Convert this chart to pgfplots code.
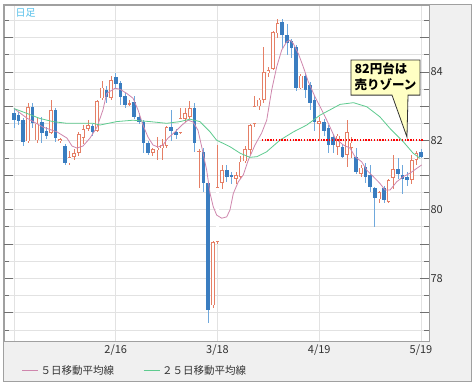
\documentclass[border=0pt]{standalone}
\usepackage{fontspec}
\setmainfont{Noto Sans CJK JP}
\usepackage{pgfplots}
\usepackage{pgfplotstable}
\pgfplotsset{compat=1.18}
\definecolor{bgfill}{HTML}{F0F0F0}
\definecolor{framegrey}{HTML}{A0A0A0}
\definecolor{gridgrey}{HTML}{E2E2E2}
\definecolor{tickgrey}{HTML}{707070}
\definecolor{textgrey}{HTML}{333333}
\definecolor{cblue}{HTML}{3A7DC0}
\definecolor{cbluew}{HTML}{6FA8DC}
\definecolor{corange}{HTML}{E57F66}
\definecolor{mafive}{HTML}{CF86AD}
\definecolor{matwf}{HTML}{5ECB8F}
\definecolor{labblue}{HTML}{55C0EA}
\definecolor{callfill}{HTML}{FFFFC4}

% i open high low close
\pgfplotstableread{
i o h l c
3 81.99 83.10 81.95 82.98
5 82.02 82.70 81.95 82.50
8 82.23 83.19 82.20 82.90
10 82.00 82.08 81.95 82.05
12 81.35 81.70 81.30 81.53
13 81.53 81.75 81.45 81.65
14 81.65 82.25 81.55 82.20
15 82.08 82.45 81.90 82.35
16 82.35 82.60 82.30 82.45
18 82.30 83.20 82.25 83.15
19 83.24 83.75 83.20 83.55
21 83.25 83.90 83.20 83.77
25 83.06 83.20 83.00 83.10
30 81.65 81.80 81.55 81.75
31 81.72 82.10 81.45 81.80
32 81.78 82.05 81.45 81.88
33 81.85 82.42 81.80 82.40
36 82.23 82.95 82.20 82.66
37 82.65 82.95 82.55 82.80
38 82.70 83.16 82.65 82.95
40 81.68 81.75 80.63 81.72
43 77.22 79.10 77.15 79.06
44 79.06 81.88 79.00 80.66
45 80.77 81.30 80.60 81.15
48 80.90 81.10 80.75 81.00
49 80.95 81.55 80.90 81.40
50 81.40 81.85 81.35 81.75
51 81.73 82.50 81.60 82.46
52 82.50 83.30 82.40 83.00
53 83.00 83.25 82.90 83.20
54 83.19 84.73 83.10 84.00
55 83.98 84.15 83.85 84.05
56 84.10 85.20 84.05 85.16
57 85.13 85.55 85.00 85.42
62 83.53 83.95 83.50 83.90
66 82.50 82.70 82.00 82.58
70 81.82 82.20 81.60 82.15
72 81.59 82.60 81.24 82.25
73 81.80 82.10 81.50 81.95
75 81.05 81.30 80.95 81.22
79 80.30 80.55 80.20 80.50
81 80.22 80.90 80.20 80.86
82 80.92 81.60 80.60 81.18
86 80.86 81.60 80.75 81.44
87 81.44 81.70 81.30 81.65
}\updata

\pgfplotstableread{
i o h l c
0 82.81 82.95 82.37 82.60
1 82.75 82.85 82.45 82.57
2 82.60 82.65 81.85 81.97
4 82.98 83.10 82.37 82.52
6 82.55 82.70 81.95 82.23
7 82.30 82.40 82.05 82.15
9 82.90 82.95 81.98 82.08
11 81.85 81.90 81.30 81.35
17 82.42 82.50 82.15 82.25
20 83.48 83.60 83.10 83.27
22 83.85 83.97 83.50 83.65
23 83.68 83.75 83.05 83.27
24 83.30 83.40 82.95 83.04
26 83.12 83.30 82.65 82.70
27 82.70 82.80 82.50 82.55
28 82.55 82.60 81.64 81.93
29 81.93 82.00 81.60 81.64
34 82.40 82.90 82.00 82.28
35 82.25 82.35 82.05 82.18
39 82.95 83.10 81.68 81.93
41 81.68 81.80 80.50 80.77
42 80.77 80.80 76.70 77.08
46 81.15 81.30 80.80 80.95
47 81.00 81.10 80.75 80.95
58 85.45 85.55 84.70 85.07
59 85.07 85.40 84.50 84.85
60 84.90 84.95 84.40 84.70
61 84.72 84.80 83.45 83.55
63 83.90 83.95 83.25 83.48
64 83.62 83.70 82.90 83.10
65 83.19 83.30 82.30 82.55
67 82.55 82.65 82.15 82.30
68 82.37 82.45 81.65 81.88
69 82.10 82.20 81.65 81.88
71 81.82 81.90 81.50 81.53
74 81.53 81.80 81.05 81.10
76 81.24 81.35 80.77 80.95
77 81.00 81.30 80.50 80.66
78 80.63 80.65 79.50 80.34
80 80.63 80.70 80.20 80.28
83 81.18 81.50 80.90 81.05
84 81.00 81.30 80.45 80.90
85 80.95 81.10 80.70 80.85
88 81.68 81.75 81.50 81.53
}\downdata

\begin{document}
\begin{tikzpicture}
\path[use as bounding box] (0pt,0pt) rectangle (474pt,384pt);
\fill[bgfill, draw=framegrey, line width=0.8pt] (3pt,3pt) rectangle (471pt,380pt);
\begin{axis}[
  at={(4pt,43pt)}, anchor=south west,
  scale only axis, width=425pt, height=336pt,
  xmin=-2.16, xmax=89.73, ymin=76.18, ymax=85.95,
  axis background/.style={fill=white},
  axis line style={draw=framegrey, line width=0.8pt},
  /pgf/number format/assume math mode=true,
  xtick={0,22,44,66,88}, xticklabels={,2/16,3/18,4/19,5/19},
  x tick style={draw=none},
  xmajorgrids,
  ytick={78,80,82,84},
  extra y ticks={77,79,81,83,85}, extra y tick labels={},
  extra y tick style={grid=major},
  minor ytick={76.5,77.5,...,85.5},
  ymajorgrids, yminorgrids,
  major grid style={draw=gridgrey, line width=0.8pt},
  minor grid style={draw=gridgrey, line width=0.8pt},
  tick align=inside, ytick pos=both, yticklabel pos=right,
  major tick length=9pt, minor tick length=5pt,
  y tick style={draw=tickgrey, line width=0.8pt},
  yticklabel style={font=\fontsize{11}{12}\selectfont, text=textgrey, xshift=-2pt},
  xticklabel style={font=\fontsize{11}{12}\selectfont, text=textgrey},
  legend style={at={(axis description cs:0.034,-0.089)}, anchor=west, draw=none, fill=none,
    font=\fontsize{10.5}{12}\selectfont, text=textgrey, legend columns=2,
    /tikz/every even column/.append style={column sep=27pt}},
  legend image code/.code={\draw[#1, line width=1pt] (0pt,0pt) -- (16pt,0pt);},
  candle/.style={forget plot, draw=none, mark=none,
    error bars/.cd, y dir=both, y explicit, error mark=none},
]
% wicks
\addplot[candle, error bar style={draw=cbluew, line width=0.7pt}]
  table[x=i, y expr={(\thisrow{h}+\thisrow{l})/2}, y error expr={(\thisrow{h}-\thisrow{l})/2}] {\downdata};
\addplot[candle, error bar style={draw=corange, line width=0.7pt}]
  table[x=i, y expr={(\thisrow{h}+\thisrow{l})/2}, y error expr={(\thisrow{h}-\thisrow{l})/2}] {\updata};
% bodies
\addplot[candle, error bar style={draw=cblue, line width=3.6pt}]
  table[x=i, y expr={(\thisrow{o}+\thisrow{c})/2}, y error expr={max((\thisrow{o}-\thisrow{c})/2,0.015)}] {\downdata};
\addplot[candle, error bar style={draw=corange, line width=3.6pt}]
  table[x=i, y expr={(\thisrow{o}+\thisrow{c})/2}, y error expr={max((\thisrow{c}-\thisrow{o})/2,0.02)}] {\updata};
\addplot[candle, error bar style={draw=white, line width=2.1pt}]
  table[x=i, y expr={(\thisrow{o}+\thisrow{c})/2}, y error expr={max((\thisrow{c}-\thisrow{o})/2-0.02,0)}] {\updata};
% moving averages
\addplot[color=mafive, line width=0.8pt] coordinates {
(0,82.94) (2.81,82.66) (6.27,82.40) (9.3,82.26) (11.46,82.08) (12.54,81.85) (13.62,81.79)
(14.92,81.85) (16.43,82.08) (17.95,82.40) (19.24,82.90) (20.04,83.38) (21.84,83.53)
(22.92,83.50) (24.37,83.38) (25.73,83.24) (26.81,82.90) (27.89,82.46) (28.97,82.11)
(30.05,81.88) (31.14,81.82) (32.22,81.88) (33.3,82.08) (34.81,82.26) (36.32,82.46)
(37.62,82.60) (38.7,82.55) (39.78,82.31) (40.58,81.83) (41.66,81.15) (42.38,80.48)
(43.09,80.08) (43.83,79.84) (44.91,79.75) (45.99,79.79) (46.7,79.99) (47.42,80.47)
(48.5,80.81) (49.58,81.01) (50.66,81.44) (52.11,81.88) (53.55,82.23) (54.64,82.60)
(55.72,83.48) (56.8,84.15) (57.88,84.64) (58.96,84.88) (59.68,84.93) (60.39,84.83)
(61.47,84.54) (62.55,84.15) (63.63,83.72) (65.08,83.28) (66.53,82.90) (67.96,82.51)
(69.41,82.08) (71.2,81.88) (72.65,81.79) (73.73,81.54) (75.18,81.39) (76.26,81.15)
(77.69,80.96) (79.14,80.76) (80.22,80.57) (81.3,80.57) (82.75,80.81) (84.17,80.96)
(85.62,81.06) (87.07,81.20) (88.15,81.30)};
\addlegendentry{５日移動平均線}
\addplot[color=matwf, line width=0.8pt] coordinates {
(0,82.94) (2.75,82.80) (5.62,82.65) (8.43,82.56) (11.46,82.51) (14.27,82.51) (17.08,82.51)
(18.6,82.46) (22.2,82.56) (25.73,82.60) (29.4,82.56) (33.0,82.51) (35.9,82.56) (38.05,82.63)
(40.2,82.56) (42.4,82.26) (43.8,82.02) (46.7,81.83) (48.9,81.64) (51.0,81.52) (52.5,81.54)
(54.6,81.68) (57.5,82.02) (60.4,82.26) (63.3,82.46) (66.2,82.75) (68.3,82.90) (70.5,83.06)
(73.4,83.11) (76.3,82.99) (79.1,82.70) (81.3,82.36) (84.2,81.97) (86.3,81.64) (87.8,81.49)};
\addlegendentry{２５日移動平均線}
% resistance line
\addplot[forget plot, color=red, line width=1.6pt, dash pattern=on 1.4pt off 1.4pt] coordinates {(53.6,82.02) (88.6,82.02)};
% callout
\draw[fill=callfill, draw=textgrey, line width=0.8pt]
  (axis cs:72.86,84.35) -- (axis cs:87.78,84.35) -- (axis cs:87.78,83.33)
  -- (axis cs:85.19,83.33) -- (axis cs:84.97,82.11) -- (axis cs:81.73,83.33)
  -- (axis cs:72.86,83.33) -- cycle;
\node[anchor=north west, align=left, inner sep=0pt, text=black,
  font=\bfseries\fontsize{12.5}{15.5}\selectfont] at (axis cs:73.6,84.27) {82円台は\\売りゾーン};
\node[anchor=west, inner sep=0pt, text=labblue, font=\fontsize{10}{11}\selectfont] at (axis cs:0.3,85.72) {日足};
\end{axis}
\end{tikzpicture}
\end{document}
